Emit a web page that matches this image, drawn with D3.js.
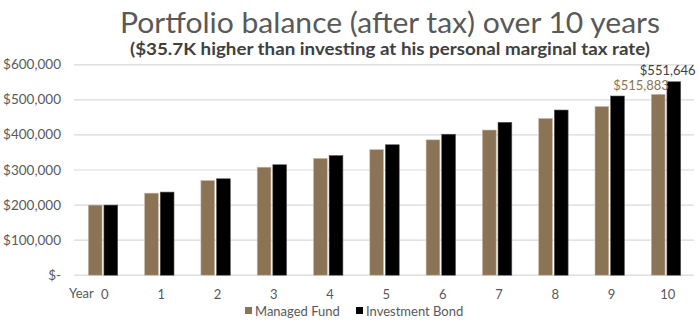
<!DOCTYPE html>
<html><head><meta charset="utf-8">
<script src="https://cdn.jsdelivr.net/npm/d3@7"></script>
<style>body{margin:0;background:#fff}svg{display:block}</style>
</head><body>
<svg id="c" width="700" height="335"></svg>
<script>
const years = ["0","1","2","3","4","5","6","7","8","9","10"];
const seriesNames = ["Managed Fund","Investment Bond"];
const managedFund = [200000,234000,270000,308000,333000,358000,386000,414000,447000,481000,515883];
const investmentBond = [200000,237000,275000,315000,341000,372000,402000,436000,471000,511000,551646];
const yTicks = [0,100000,200000,300000,400000,500000,600000];
const title = "Portfolio balance (after tax) over 10 years";
const subtitle = "($35.7K higher than investing at his personal marginal tax rate)";

const colors = {"Managed Fund":"#8b7356","Investment Bond":"#000000"};
const font = "Lato, 'Open Sans', sans-serif";
const svg = d3.select("#c");

const x0 = d3.scaleBand().domain(years).range([74.7,694]).padding(0);
const x1 = d3.scaleBand().domain(seriesNames).range([13.6,43]).paddingInner(0.12);
const y = d3.scaleLinear().domain([0,600000]).range([275.2,64.8]);

// gridlines
svg.append("g").selectAll("line").data(yTicks).join("line")
  .attr("x1",74).attr("x2",694)
  .attr("y1",d=>y(d)).attr("y2",d=>y(d))
  .attr("stroke","#d9d9d9").attr("stroke-width",1.2);

// y labels
const fmt = d3.format(",");
svg.append("g").selectAll("text").data(yTicks).join("text")
  .attr("x",61).attr("y",d=>y(d)+4.5).attr("text-anchor","end")
  .attr("font-family",font).attr("font-size",13.5).attr("fill","#595959")
  .text(d=> d===0 ? "$-" : "$"+fmt(d));

// bars
const data = years.map((yr,i)=>({year:yr, vals:[
  {s:"Managed Fund", v:managedFund[i]},
  {s:"Investment Bond", v:investmentBond[i]}]}));
const g = svg.append("g").selectAll("g").data(data).join("g")
  .attr("transform",d=>`translate(${x0(d.year)},0)`);
g.selectAll("rect").data(d=>d.vals).join("rect")
  .attr("x",d=>x1(d.s)).attr("width",x1.bandwidth())
  .attr("y",d=>y(d.v)).attr("height",d=>y(0)-y(d.v))
  .attr("fill",d=>colors[d.s])
  .attr("stroke",d=>d.s==="Managed Fund"?"#c8bca8":"#555")
  .attr("stroke-width",0.6);

// x labels
svg.append("g").selectAll("text").data(years).join("text")
  .attr("x",d=>x0(d)+x0.bandwidth()/2+2).attr("y",299).attr("text-anchor","middle")
  .attr("font-family",font).attr("font-size",13).attr("fill","#595959").text(d=>d);
svg.append("text").attr("x",69).attr("y",297.5)
  .attr("font-family",font).attr("font-size",13).attr("fill","#595959").text("Year");

// data labels on last year
const last = years.length-1;
svg.append("text")
  .attr("x",x0(years[last])+x1("Managed Fund")+x1.bandwidth()/2-45).attr("y",y(managedFund[last])-4)
  .attr("text-anchor","start").attr("font-family",font).attr("font-size",13).attr("fill","#8b7356")
  .text("$"+fmt(managedFund[last]));
svg.append("text")
  .attr("x",x0(years[last])+x1("Investment Bond")+x1.bandwidth()/2-34).attr("y",y(investmentBond[last])-7)
  .attr("text-anchor","start").attr("font-family",font).attr("font-size",13).attr("fill","#404040")
  .text("$"+fmt(investmentBond[last]));

// title
svg.append("text").attr("x",390).attr("y",33).attr("text-anchor","middle")
  .attr("font-family",font).attr("font-size",28).attr("fill","#595959")
  .attr("textLength",540).attr("lengthAdjust","spacingAndGlyphs").text(title);
svg.append("text").attr("x",390).attr("y",55).attr("text-anchor","middle")
  .attr("font-family",font).attr("font-size",17).attr("font-weight","bold").attr("fill","#404040")
  .attr("textLength",520).attr("lengthAdjust","spacingAndGlyphs").text(subtitle);

// legend
const leg = svg.append("g");
const legX = [245,356];
seriesNames.forEach((s,i)=>{
  leg.append("rect").attr("x",legX[i]).attr("y",307).attr("width",7).attr("height",7).attr("fill",colors[s]);
  leg.append("text").attr("x",legX[i]+10).attr("y",316).attr("font-family",font).attr("font-size",13)
    .attr("fill","#595959").text(s);
});
</script>
</body></html>
